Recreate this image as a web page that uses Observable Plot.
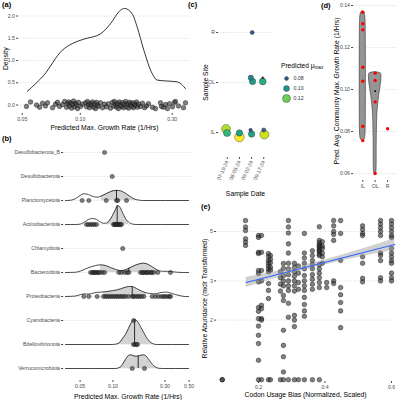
<!DOCTYPE html>
<html>
<head>
<meta charset="utf-8">
<script src="https://cdn.jsdelivr.net/npm/d3@7"></script>
<script src="https://cdn.jsdelivr.net/npm/@observablehq/plot@0.6"></script>
<style>
  html, body { margin: 0; padding: 0; background: #fff; }
  #wrap { position: relative; width: 396px; height: 400px; overflow: hidden; font-family: "Liberation Sans", Arial, Helvetica, sans-serif; }
  .tag { font-weight: bold; font-size: 7.5px; line-height: 8px; color: #000; white-space: nowrap; }
  .legtitle { font-size: 6.6px; line-height: 8px; color: #000; white-space: nowrap; }
  .legtitle sub { font-size: 4.6px; vertical-align: -1px; }
</style>
</head>
<body>
<div id="wrap"></div>
<script>
// ===================== DATA =====================
// (a) density of predicted max growth rate
const aTicks = [0.05, 0.1, 0.3];
const aDensityTicks = [0, 0.5, 1, 1.5, 2];
const aCurveMu = [0.0531,0.0647,0.0806,0.0908,0.1043,0.1274,0.1436,0.1618,0.1698,0.186,0.1975,0.2138,0.236,0.2506,0.2825,0.3186,0.3516];
const aCurveDensity = [0.31,0.67,1.23,1.38,1.48,1.60,1.83,2.13,2.17,2.05,1.75,1.23,0.71,0.56,0.54,0.52,0.37];
const aMu = [0.0526,0.0552,0.0593,0.0615,0.0637,0.0660,0.0676,0.0718,0.0744,0.0762,
  0.0780,0.0809,0.0829,0.0849,0.0859,0.0869,0.0880,0.0890,0.0901,0.0912,
  0.0923,0.0934,0.0945,0.0956,0.0968,0.0979,0.1003,0.1027,0.1065,0.1077,
  0.1090,0.1104,0.1117,0.1130,0.1144,0.1158,0.1172,0.1186,0.1200,0.1214,
  0.1229,0.1244,0.1274,0.1305,0.1336,0.1368,0.1401,0.1435,0.1470,0.1488,
  0.1505,0.1524,0.1542,0.1561,0.1579,0.1598,0.1618,0.1637,0.1657,0.1677,
  0.1697,0.1718,0.1738,0.1759,0.1780,0.1802,0.1823,0.1845,0.1867,0.1890,
  0.1912,0.1935,0.1958,0.1982,0.2006,0.2055,0.2103,0.2155,0.2207,0.2260,
  0.2370,0.2457,0.2608,0.2639,0.2703,0.2768,0.2835,0.2904,0.3011,0.3083,
  0.3120,0.3233,0.3432,0.3516];
const aJitter = [-0.03,0.07,0.00,-0.05,0.04,-0.02,0.05,-0.06,0.02,0.06,
  -0.03,0.01,0.08,-0.05,0.03,0.07,-0.02,0.05,-0.07,0.02,
  0.09,-0.04,0.04,0.00,-0.08,0.06,-0.03,0.02,0.05,-0.04,
  0.08,0.01,-0.06,0.04,-0.01,0.07,-0.05,0.03,-0.08,0.06,
  0.00,-0.03,0.05,-0.06,0.02,-0.04,0.03,-0.07,0.06,-0.02,
  0.08,0.01,-0.05,0.04,-0.08,0.07,0.00,-0.03,0.05,-0.06,
  0.02,0.08,-0.04,0.03,-0.07,0.06,0.01,-0.03,0.05,-0.06,
  0.03,-0.01,0.07,-0.05,0.02,-0.03,0.04,-0.06,-0.02,0.03,
  -0.05,-0.08,0.05,-0.03,-0.05,0.01,-0.08,0.03,-0.04,0.06,
  0.08,-0.02,-0.06,0.05];

// (b) ridgelines by phylum
const phyla = ["Desulfobacterota_B","Desulfobacterota","Planctomycetota","Actinobacteriota","Chlamydiota",
  "Bacteroidota","Proteobacteria","Cyanobacteria","Bdellovibrionota","Verrucomicrobiota"];
const bTicks = [0.05, 0.1, 0.3, 0.5];
const bPoints = [
  [0.0838],
  [0.0985],
  [0.0522,0.0601,0.0868,0.1078,0.1109,0.1332],
  [0.0572,0.0597,0.0623,0.0650,0.0677,0.0707,0.1012,0.1034,0.1056,0.1078,0.1101,0.1125,0.1149,0.1173,0.1199],
  [0.123],
  [0.0623,0.0650,0.0659,0.0682,0.0692,0.0717,0.0737,0.0753,0.0797,0.0837,0.1132,0.1191,0.1277,0.1352,0.1399,
   0.1790,0.1855,0.1907,0.1948,0.2032,0.2075,0.2134,0.2245,0.2259,0.2371,0.2580,0.3375],
  [0.0541,0.0601,0.0717,0.0819,0.0855,0.0892,0.0930,0.0970,0.1012,0.1056,0.1101,0.1149,0.1199,0.1250,0.1304,
   0.1389,0.1502,0.1544,0.1611,0.1680,0.1753,0.1829,0.1918,0.2291,0.2458,0.2619,0.2790,0.2911,0.3036,0.3167,0.3304,0.3375],
  [0.155],
  [0.1544,0.1594,0.1645,0.1680],
  [0.1502,0.1948]
];
const planctoRidge = [[0.0367,0],[0.0408,0.01],[0.0454,0.08],[0.0504,0.22],[0.0537,0.28],[0.0572,0.27],[0.0623,0.21],[0.0664,0.16],[0.0722,0.14],[0.0785,0.19],[0.0855,0.27],[0.0950,0.37],[0.1056,0.42],[0.1125,0.42],[0.1224,0.37],[0.1332,0.27],[0.1449,0.16],[0.1577,0.06],[0.1716,0.02],[0.1867,0],[0.4935,0]];
const actinoRidge = [[0.0367,0],[0.0454,0],[0.0504,0.02],[0.0548,0.10],[0.0597,0.21],[0.0650,0.25],[0.0707,0.21],[0.0769,0.10],[0.0819,0.05],[0.0873,0.06],[0.0930,0.17],[0.0991,0.38],[0.1056,0.63],[0.1101,0.79],[0.1149,0.75],[0.1224,0.50],[0.1304,0.25],[0.1389,0.10],[0.1512,0.02],[0.1645,0],[0.4935,0]];
const bacteroRidge = [[0.0367,0],[0.0454,0.01],[0.0504,0.06],[0.0560,0.15],[0.0623,0.23],[0.0692,0.29],[0.0769,0.32],[0.0855,0.29],[0.0950,0.21],[0.1056,0.13],[0.1173,0.08],[0.1277,0.10],[0.1389,0.17],[0.1544,0.27],[0.1716,0.35],[0.1907,0.39],[0.2120,0.33],[0.2307,0.23],[0.2564,0.10],[0.2850,0.05],[0.3167,0.05],[0.3520,0.03],[0.3913,0.01],[0.4347,0],[0.4935,0]];
const proteoRidge = [[0.0367,0],[0.0454,0.02],[0.0504,0.08],[0.0548,0.11],[0.0597,0.10],[0.0650,0.13],[0.0707,0.17],[0.0769,0.18],[0.0855,0.20],[0.0950,0.23],[0.1078,0.27],[0.1199,0.33],[0.1332,0.40],[0.1449,0.42],[0.1577,0.38],[0.1716,0.29],[0.1867,0.21],[0.2032,0.15],[0.2212,0.12],[0.2405,0.11],[0.2619,0.14],[0.2911,0.18],[0.3167,0.18],[0.3446,0.13],[0.3750,0.08],[0.4168,0.03],[0.4631,0],[0.4935,0]];
const bdelloRidge = [[0.0367,0],[0.0991,0],[0.1078,0.02],[0.1149,0.08],[0.1224,0.25],[0.1304,0.42],[0.1389,0.67],[0.1480,0.92],[0.1544,1.02],[0.1611,1.03],[0.1680,0.96],[0.1790,0.75],[0.1907,0.52],[0.2032,0.29],[0.2165,0.13],[0.2307,0.04],[0.2510,0],[0.4935,0]];
const verrucoRidge = [[0.0367,0],[0.1056,0],[0.1149,0.04],[0.1224,0.17],[0.1304,0.38],[0.1389,0.54],[0.1449,0.57],[0.1544,0.53],[0.1645,0.51],[0.1790,0.55],[0.1907,0.57],[0.2032,0.50],[0.2165,0.33],[0.2307,0.17],[0.2458,0.06],[0.2619,0.01],[0.2850,0],[0.4935,0]];
const ridgeRows = [2, 3, 5, 6, 8, 9];
const ridgeCurves = [planctoRidge, actinoRidge, bacteroRidge, proteoRidge, bdelloRidge, verrucoRidge];
const ridgeShade = [[0.078,0.168],[0.0892,0.1389],[0.0769,0.262],[0.0819,0.2032],[0.0991,0.2510],[0.1056,0.2850]];
const ridgeMedians = [0.1078, 0.1094, 0.1399, 0.1502, 0.158, 0.1705];

// (c) site x date
const cSites = ["R","OL","IL"];
const cDates = ["07-19-24","08-05-24","09-02-24","09-17-24"];
const cSite = [0,1,1,1,1,2,2,2,2,2,2,2,2];
const cDate = [2,2,2,3,3,0,0,1,1,2,2,3,3];
const cMu = [0.0813,0.094,0.104,0.108,0.061,0.128,0.111,0.104,0.137,0.0757,0.104,0.0825,0.131];
const cJitterX = [0.05,-0.06,0.08,-0.08,-0.08,-0.1,-0.02,0,0,-0.08,0,0,0.05];
const cJitterY = [0,-0.094,-0.02,-0.02,-0.094,-0.074,0.01,0.01,0.09,-0.05,0.03,-0.05,0.04];
const legendMu = [0.08, 0.10, 0.12];

// (d) community average by site
const dSites = ["IL","OL","R"];
const dTicks = [0.06, 0.08, 0.10, 0.12, 0.14];
const dIL = [0.1368,0.1313,0.1284,0.1106,0.104,0.0825,0.0757];
const dOL = [0.1078,0.1043,0.0941,0.060];
const dR = [0.0813];
const dOLCentre = 0.0992;
const ilViolin = [[0.0754,0],[0.0762,0.15],[0.078,0.21],[0.082,0.235],[0.09,0.245],[0.10,0.25],[0.11,0.25],[0.12,0.245],[0.13,0.235],[0.135,0.2],[0.1368,0.12],[0.1373,0]];
const olViolin = [[0.0595,0],[0.0603,0.08],[0.062,0.11],[0.066,0.12],[0.072,0.12],[0.078,0.13],[0.084,0.15],[0.089,0.18],[0.093,0.24],[0.097,0.32],[0.101,0.42],[0.104,0.49],[0.1065,0.51],[0.1077,0.45],[0.1083,0]];

// (e) codon usage bias vs abundance
const eXTicks = [0.2, 0.4, 0.6];
const eYTicks = [2, 3, 5];
const eColumns = [
  [0.091, [1.08, 1.08]],
  [0.161, [5.6, 5.24, 5.05, 4.64, 4.48, 4.33]],
  [0.200, [4.8, 4.7, 4.03, 3.98, 3.34, 3.24, 2.97, 2.28, 2.19, 2.03, 1.88, 1.71, 1.57, 1.32, 1.08]],
  [0.209, [4.8, 4.03, 3.34, 3.0, 2.33, 2.25, 2.03, 2.0, 1.08]],
  [0.230, [3.98, 3.85, 3.7, 3.6, 3.5, 3.4, 3.3, 2.92, 2.72, 2.5, 1.08]],
  [0.236, [3.9, 3.75, 3.62, 3.45, 3.35, 1.08]],
  [0.266, [3.3, 3.1, 2.9, 2.7, 1.08]],
  [0.275, [3.59, 3.41, 3.17, 3.0, 2.85, 2.58, 2.45, 1.80, 1.54, 1.37, 1.17, 1.08]],
  [0.290, [5.6, 5.24, 4.92, 4.4, 4.0, 3.6, 3.4, 3.2, 3.0, 2.85, 2.72, 2.38, 2.06, 1.08]],
  [0.308, [3.6, 3.45, 3.3, 3.15, 3.0, 2.85, 2.7, 2.1, 2.0, 1.87, 1.08]],
  [0.320, [3.5, 3.25, 2.95, 2.75, 1.08]],
  [0.338, [4.9, 4.0, 3.8, 3.6, 3.4, 3.17, 3.0, 2.85, 2.72, 2.53, 2.35, 2.2, 2.08, 1.08]],
  [0.362, [4.1, 3.9, 3.7, 3.55, 3.4, 3.2, 3.05, 2.9, 2.75, 1.08]],
  [0.383, [5.25, 4.56, 4.45, 4.35, 4.3, 4.25, 4.15, 4.1, 4.05, 3.95, 3.9, 3.55, 3.4, 3.25, 3.1, 2.95, 2.8, 1.08]],
  [0.392, [4.5, 4.3, 4.2, 4.0, 3.85, 3.6]],
  [0.405, [2.95, 2.8]],
  [0.426, [5.6, 5.3, 5.0, 4.85, 4.56, 3.0, 2.92]],
  [0.447, [5.6, 4.9, 3.71, 2.8, 2.6, 2.4, 2.2, 1.85]],
  [0.513, [5.3, 5.1, 4.9, 4.8, 3.85, 3.6, 3.08, 2.97]],
  [0.567, [5.6, 5.4, 5.2, 5.0, 4.8, 4.0, 3.9, 3.7, 3.1, 3.0]],
  [0.600, [5.6, 5.4, 5.2, 5.0, 4.8, 4.7, 4.2, 4.0, 3.85, 3.7, 3.6, 3.25, 3.1, 3.0]]
];
const eFitCub = [0.163, 0.61];
const eFitAbund = [2.95, 4.37];
const eBandCub = [0.163, 0.22, 0.28, 0.37, 0.46, 0.53, 0.61];
const eBandLo = [2.80, 2.98, 3.17, 3.45, 3.71, 3.91, 4.11];
const eBandHi = [3.11, 3.23, 3.37, 3.63, 3.95, 4.25, 4.65];

// ===================== RENDER =====================
const FONT = "'Liberation Sans', Arial, Helvetica, sans-serif";
const style = {background: "transparent", fontSize: "5.2px", fontFamily: FONT, color: "#4d4d4d", overflow: "visible"};
const gridStyle = {stroke: "#c4c4c4", strokeWidth: 0.6, strokeDasharray: "1,1.6"};
const titleStyle = {text: d => d, fill: "#000", fontSize: 6.8, lineAnchor: "middle", textAnchor: "middle"};
const axisOpts = {tickSize: 2, tickPadding: 1.5, label: null};
const ptStyle = {fill: "#333", fillOpacity: 0.62, stroke: "#111", strokeOpacity: 0.85, strokeWidth: 0.5};

const wrap = document.getElementById("wrap");
function put(el, left, top) {
  el.style.position = "absolute"; el.style.left = left + "px"; el.style.top = top + "px";
  wrap.appendChild(el); return el;
}
function tag(txt, left, top) {
  const d = document.createElement("div"); d.className = "tag"; d.textContent = txt; put(d, left, top);
}

// ---- (a)
const aPts = aMu.map((m, i) => ({mu: m, d: aJitter[i]}));
const aCurve = aCurveMu.map((m, i) => ({mu: m, d: aCurveDensity[i]}));
put(Plot.plot({
  width: 195, height: 135, marginLeft: 18, marginRight: 5, marginTop: 3.5, marginBottom: 22, style,
  x: {type: "log", domain: [0.0478, 0.3733], ticks: aTicks, tickFormat: d3.format(".2f"), ...axisOpts},
  y: {domain: [-0.19, 2.27], ticks: aDensityTicks, tickFormat: d3.format(".1f"), ...axisOpts},
  marks: [
    Plot.ruleY(aDensityTicks, gridStyle),
    Plot.line(aCurve, {x: "mu", y: "d", curve: "monotone-x", stroke: "#000", strokeWidth: 0.8}),
    Plot.dot(aPts, {x: "mu", y: "d", r: 2.3, ...ptStyle}),
    Plot.text(["Density"], {...titleStyle, frameAnchor: "left", rotate: -90, dx: -13}),
    Plot.text(["Predicted Max. Growth Rate (1/Hrs)"], {...titleStyle, frameAnchor: "bottom", dy: 14})
  ]
}), 0, 0);

// ---- (b)
function hAt(curve, m) {
  for (let i = 0; i < curve.length - 1; i++) {
    const [m0, h0] = curve[i], [m1, h1] = curve[i + 1];
    if (m >= m0 && m <= m1) {
      const t = (Math.log(m) - Math.log(m0)) / (Math.log(m1) - Math.log(m0));
      return h0 + t * (h1 - h0);
    }
  }
  return 0;
}
const ridgeMarks = ridgeRows.flatMap((row, k) => {
  const curve = ridgeCurves[k], [lo, hi] = ridgeShade[k], med = ridgeMedians[k];
  const full = curve.map(([mu, h]) => ({mu, row, top: row - h}));
  const seg = [[lo, hAt(curve, lo)], ...curve.filter(([mu]) => mu > lo && mu < hi), [hi, hAt(curve, hi)]]
    .map(([mu, h]) => ({mu, row, top: row - h}));
  return [
    Plot.areaY(full, {x: "mu", y1: "row", y2: "top", curve: "monotone-x", fill: "#fff"}),
    Plot.areaY(seg, {x: "mu", y1: "row", y2: "top", curve: "monotone-x", fill: "#d3d3d3"}),
    Plot.ruleX([{mu: med, row, top: row - hAt(curve, med)}], {x: "mu", y1: "row", y2: "top", stroke: "#000", strokeWidth: 0.8}),
    Plot.line(full, {x: "mu", y: "top", curve: "monotone-x", stroke: "#000", strokeWidth: 0.7})
  ];
});
const bRows = phyla.map((p, i) => i);
const bDots = bPoints.flatMap((arr, row) => arr.map(mu => ({mu, row})));
put(Plot.plot({
  width: 195, height: 263, marginLeft: 63, marginRight: 3, marginTop: 3, marginBottom: 20, style,
  x: {type: "log", domain: [0.0352, 0.537], ticks: bTicks, tickFormat: d3.format(".2f"), ...axisOpts},
  y: {domain: [9.5, -0.5], ticks: bRows, tickFormat: i => phyla[i], ...axisOpts},
  marks: [
    Plot.ruleY(bRows, gridStyle),
    ...ridgeMarks,
    Plot.dot(bDots, {x: "mu", y: "row", r: 2.1, ...ptStyle}),
    Plot.text(["Predicted Max. Growth Rate (1/Hrs)"], {...titleStyle, frameAnchor: "bottom", dy: 16})
  ]
}), 0, 137);

// ---- (c)
const rScale = {type: "linear", domain: [0.06, 0.14], range: [1, 5]};
const colorScale = {type: "linear", scheme: "viridis", domain: [0.06, 0.137]};
const cObs = cMu.map((mu, i) => ({mu, x: cDate[i] + cJitterX[i], y: cSite[i] + cJitterY[i]}))
  .sort((a, b) => b.mu - a.mu);
put(Plot.plot({
  width: 80, height: 200, marginLeft: 18, marginRight: 8, marginTop: 7, marginBottom: 43, style,
  x: {domain: [-0.72, 3.72], ticks: cDates.map((d, i) => i), tickFormat: i => cDates[i], tickRotate: -65, ...axisOpts},
  y: {domain: [2.5, -0.5], ticks: cSites.map((d, i) => i), tickFormat: i => cSites[i], ...axisOpts},
  r: rScale, color: colorScale,
  marks: [
    Plot.ruleY(cSites.map((d, i) => i), gridStyle),
    Plot.dot(cObs, {x: "x", y: "y", r: "mu", fill: "mu", stroke: "#333", strokeWidth: 0.4}),
    Plot.text(["Sample Date"], {...titleStyle, frameAnchor: "bottom", dy: 36}),
    Plot.text(["Sample Site"], {...titleStyle, frameAnchor: "left", rotate: -90, dx: -13})
  ]
}), 200, 0);

// legend for (c)
const lt = document.createElement("div");
lt.className = "legtitle";
lt.innerHTML = "Predicted &mu;<sub>max</sub>";
put(lt, 281, 62);
put(Plot.plot({
  width: 40, height: 30, marginTop: 5, marginBottom: 5, marginLeft: 0, marginRight: 0, style,
  y: {type: "point", domain: legendMu, padding: 0, axis: null},
  r: rScale, color: colorScale,
  marks: [
    Plot.dot(legendMu, {y: d => d, r: d => d, fill: d => d, frameAnchor: "left", dx: 5, stroke: "#333", strokeWidth: 0.4}),
    Plot.text(legendMu, {y: d => d, text: d => d3.format(".2f")(d), frameAnchor: "left", dx: 12, textAnchor: "start", fill: "#333", fontSize: 5.2})
  ]
}), 281, 73);

// ---- (d)
const dPts = [...dIL.map(v => ({s: 1, v})), ...dOL.map(v => ({s: 2, v})), ...dR.map(v => ({s: 3, v}))];
const ilV = ilViolin.map(([v, w]) => ({v, x1: 1 - w, x2: 1 + w}));
const olV = olViolin.map(([v, w]) => ({v, x1: 2 - w, x2: 2 + w}));
put(Plot.plot({
  width: 96, height: 195, marginLeft: 53, marginRight: 0, marginTop: 1, marginBottom: 15, style,
  x: {domain: [0.25, 3.72], ticks: [1, 2, 3], tickFormat: i => dSites[i - 1], ...axisOpts},
  y: {domain: [0.0567, 0.1419], ticks: dTicks, tickFormat: d3.format(".2f"), ...axisOpts},
  marks: [
    Plot.ruleY(dTicks, gridStyle),
    Plot.areaX(ilV, {y: "v", x1: "x1", x2: "x2", curve: "monotone-y", fill: "#959595", stroke: "#333", strokeWidth: 0.6}),
    Plot.areaX(olV, {y: "v", x1: "x1", x2: "x2", curve: "monotone-y", fill: "#959595", stroke: "#333", strokeWidth: 0.6}),
    Plot.dot([dOLCentre], {x: dSites.indexOf("OL") + 1, y: d => d, r: 0.9, fill: "#000"}),
    Plot.dot(dPts, {x: "s", y: "v", r: 1.7, fill: "#ff0000"}),
    Plot.text(["Pred. Avg. Community Max. Growth Rate (1/Hrs)"], {...titleStyle, frameAnchor: "left", rotate: -90, dx: -17})
  ]
}), 300, 0);

// ---- (e)
const ePts = eColumns.flatMap(([cub, ys]) => ys.map(y => ({cub, y})));
const eFit = eFitCub.map((x, i) => ({x, y: eFitAbund[i]}));
const eBand = eBandCub.map((x, i) => ({x, lo: eBandLo[i], hi: eBandHi[i]}));
put(Plot.plot({
  width: 196, height: 200, marginLeft: 16, marginRight: 2, marginTop: 15, marginBottom: 19, style,
  x: {domain: [0.0737, 0.609], ticks: eXTicks, tickFormat: d3.format(".1f"), ...axisOpts},
  y: {type: "log", domain: [1.06, 5.9], ticks: eYTicks, tickFormat: d3.format("d"), ...axisOpts},
  marks: [
    Plot.ruleY(eYTicks, gridStyle),
    Plot.dot(ePts, {x: "cub", y: "y", r: 2.3, ...ptStyle}),
    Plot.areaY(eBand, {x: "x", y1: "lo", y2: "hi", curve: "monotone-x", fill: "#9a9a9a", fillOpacity: 0.45}),
    Plot.line(eFit, {x: "x", y: "y", stroke: "#3366ff", strokeWidth: 1.1}),
    Plot.text(["Codon Usage Bias (Normalized, Scaled)"], {...titleStyle, frameAnchor: "bottom", dy: 13}),
    Plot.text(["Relative Abundance (mclr Transformed)"], {...titleStyle, frameAnchor: "left", rotate: -90, dx: -12})
  ]
}), 200, 200);

// panel tags
tag("(a)", 2, 1);
tag("(b)", 2, 135);
tag("(c)", 188, 1);
tag("(d)", 321, 2);
tag("(e)", 201, 203);
</script>
</body>
</html>
